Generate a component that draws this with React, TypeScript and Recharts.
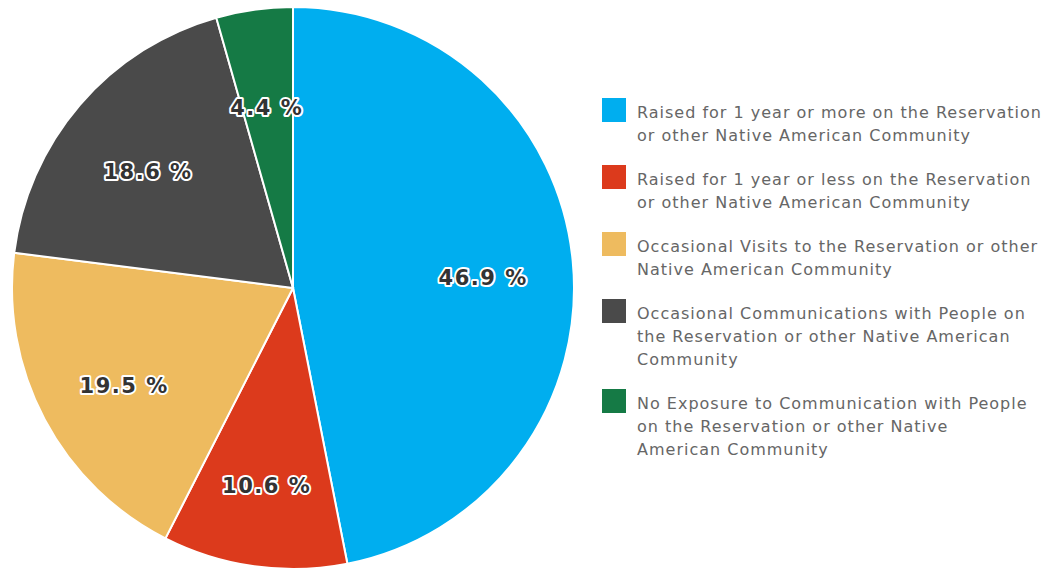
import React from "react";
import { PieChart, Pie, Cell, Legend } from "recharts";

const categories = [
  "Raised for 1 year or more on the Reservation or other Native American Community",
  "Raised for 1 year or less on the Reservation or other Native American Community",
  "Occasional Visits to the Reservation or other Native American Community",
  "Occasional Communications with People on the Reservation or other Native American Community",
  "No Exposure to Communication with People on the Reservation or other Native American Community",
];
const legendLines = [
  ["Raised for 1 year or more on the Reservation", "or other Native American Community"],
  ["Raised for 1 year or less on the Reservation", "or other Native American Community"],
  ["Occasional Visits to the Reservation or other", "Native American Community"],
  ["Occasional Communications with People on", "the Reservation or other Native American", "Community"],
  ["No Exposure to Communication with People", "on the Reservation or other Native", "American Community"],
];
const values = [46.9, 10.6, 19.5, 18.6, 4.4];
const colors = ["#00AEEF", "#DC3A1C", "#EEBB5F", "#4A4A4A", "#157A45"];

const data = categories.map((name, i) => ({ name, value: values[i] }));

const RAD = Math.PI / 180;
const renderLabel = (props: any) => {
  const { cx, cy, midAngle, outerRadius, value } = props;
  const r = outerRadius * 0.68;
  const x = cx + r * Math.cos(-midAngle * RAD);
  const y = cy + r * Math.sin(-midAngle * RAD) + 9;
  return (
    <text
      x={x}
      y={y}
      textAnchor="middle"
      dominantBaseline="central"
      fill="#333"
      stroke="#fff"
      strokeWidth={4}
      paintOrder="stroke"
      strokeLinejoin="round"
      style={{ fontFamily: "DejaVu Sans", fontWeight: 700, fontSize: 21, letterSpacing: 1.5 }}
    >
      {value.toFixed(1) + " %"}
    </text>
  );
};

const renderLegend = () => (
  <div style={{ fontFamily: "DejaVu Sans", fontSize: 16, letterSpacing: 1, color: "#666", fontWeight: 400 }}>
    {data.map((d, i) => (
      <div key={d.name} style={{ display: "flex", alignItems: "flex-start", marginBottom: 21 }}>
        <div style={{ width: 24, height: 24, background: colors[i], marginTop: -3, marginRight: 11, flexShrink: 0 }} />
        <div style={{ lineHeight: "23px", whiteSpace: "nowrap" }}>
          {legendLines[i].map((l, j) => (
            <div key={j}>{l}</div>
          ))}
        </div>
      </div>
    ))}
  </div>
);

export default function App() {
  return (
    <div style={{ position: "absolute", left: 0, top: 0, width: 1050, height: 571, background: "#fff" }}>
      <PieChart width={1050} height={571}>
        <Pie
          data={data}
          dataKey="value"
          nameKey="name"
          cx={288}
          cy={283}
          outerRadius={281}
          startAngle={90}
          endAngle={-270}
          stroke="#fff"
          strokeWidth={2}
          label={renderLabel}
          labelLine={false}
          isAnimationActive={false}
        >
          {data.map((d, i) => (
            <Cell key={d.name} fill={colors[i]} />
          ))}
        </Pie>
        <Legend
          content={renderLegend}
          layout="vertical"
          wrapperStyle={{ position: "absolute", left: 602, top: 101, width: 448 }}
        />
      </PieChart>
    </div>
  );
}
